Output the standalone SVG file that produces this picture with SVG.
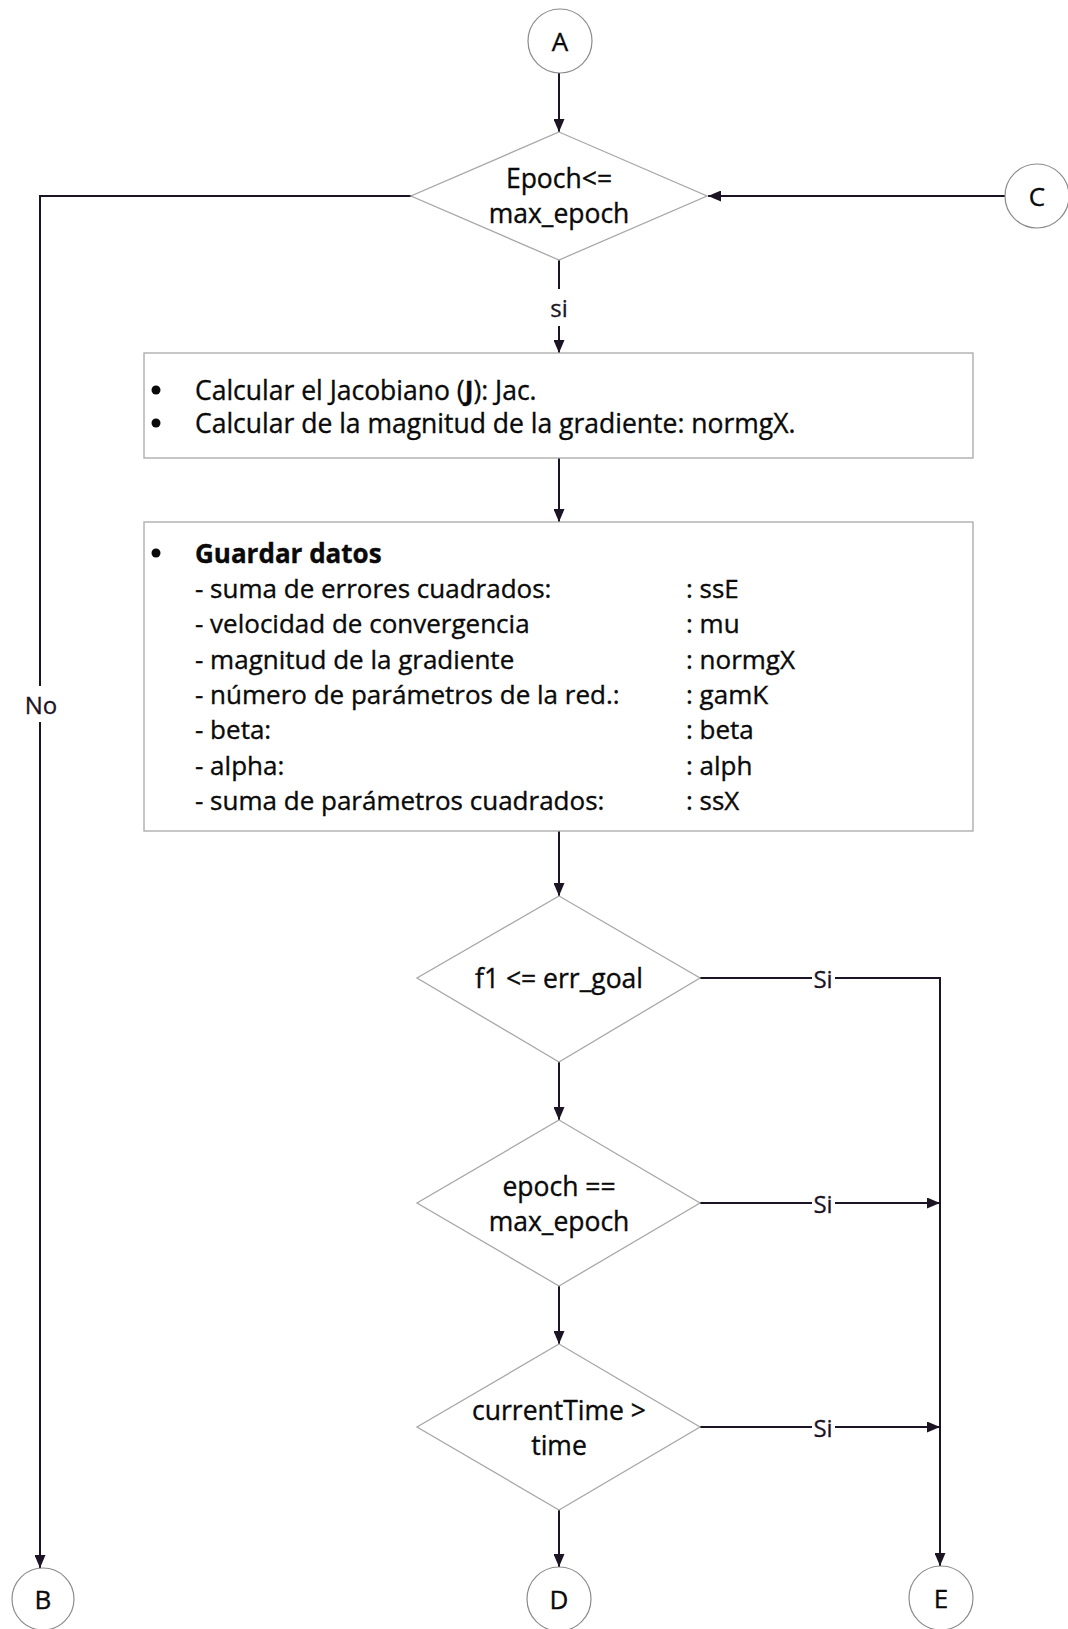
<svg xmlns="http://www.w3.org/2000/svg" width="1068" height="1629" viewBox="0 0 1068 1629">
  <defs>
    <marker id="arrow" viewBox="0 0 13 11" refX="13" refY="5.5" markerWidth="13" markerHeight="11" markerUnits="userSpaceOnUse" orient="auto">
      <path d="M0,0 L13,5.5 L0,11 Z" fill="#1c1424"/>
    </marker>
    <style>
      .shape { fill: #ffffff; stroke: #a8a8a8; stroke-width: 1.3; }
      .conn { fill: none; stroke: #1c1424; stroke-width: 2; }
      .circ { fill: #ffffff; stroke: #8c8c8c; stroke-width: 1.2; }
      .t { font-family: "Open Sans", "Liberation Sans", sans-serif; font-size: 26px; font-weight: 500; fill: #0a0a0a; stroke: #0a0a0a; stroke-width: 0.35; }
      .d { font-size: 26.5px; }
      .c { text-anchor: middle; dominant-baseline: central; }
      .lbl { font-family: "Open Sans", "Liberation Sans", sans-serif; font-size: 24px; font-weight: 500; fill: #1c1424; stroke: #1c1424; stroke-width: 0.3; text-anchor: middle; dominant-baseline: central; }
      .b { font-weight: bold; }
    </style>
  </defs>
  <rect width="1068" height="1629" fill="#ffffff"/>

  <!-- connectors -->
  <g id="connectors">
    <line class="conn" x1="559" y1="73" x2="559" y2="132" marker-end="url(#arrow)"/>
    <!-- back-edge from C -->
    <line class="conn" x1="1005" y1="196" x2="708" y2="196" marker-end="url(#arrow)"/>
    <!-- "No" branch to B -->
    <polyline class="conn" points="412,196 40,196 40,686"/>
    <line class="conn" x1="40" y1="722" x2="40" y2="1568" marker-end="url(#arrow)"/>
    <!-- "si" branch -->
    <line class="conn" x1="559" y1="260" x2="559" y2="289"/>
    <line class="conn" x1="559" y1="326" x2="559" y2="353" marker-end="url(#arrow)"/>
    <line class="conn" x1="559" y1="458" x2="559" y2="522" marker-end="url(#arrow)"/>
    <line class="conn" x1="559" y1="831" x2="559" y2="896" marker-end="url(#arrow)"/>
    <line class="conn" x1="559" y1="1062" x2="559" y2="1120" marker-end="url(#arrow)"/>
    <line class="conn" x1="559" y1="1286" x2="559" y2="1344" marker-end="url(#arrow)"/>
    <line class="conn" x1="559" y1="1510" x2="559" y2="1567" marker-end="url(#arrow)"/>
    <!-- "Si" exits to E -->
    <line class="conn" x1="700" y1="978" x2="812" y2="978"/>
    <polyline class="conn" points="835,978 940,978 940,1566" marker-end="url(#arrow)"/>
    <line class="conn" x1="700" y1="1203" x2="812" y2="1203"/>
    <line class="conn" x1="835" y1="1203" x2="940" y2="1203" marker-end="url(#arrow)"/>
    <line class="conn" x1="700" y1="1427" x2="812" y2="1427"/>
    <line class="conn" x1="835" y1="1427" x2="940" y2="1427" marker-end="url(#arrow)"/>
    <!-- connector labels -->
    <text class="lbl" x="559" y="307">si</text>
    <text class="lbl" x="41" y="704">No</text>
    <text class="lbl" x="823" y="978">Si</text>
    <text class="lbl" x="823" y="1203">Si</text>
    <text class="lbl" x="823" y="1427">Si</text>
  </g>

  <!-- connector A -->
  <g id="node-A">
    <circle class="circ" cx="560" cy="41" r="32"/>
    <text class="t c" x="560" y="41">A</text>
  </g>

  <!-- decision: epoch limit -->
  <g id="node-epoch">
    <polygon class="shape" points="559,132 707,196 559,260 411,196"/>
    <text class="t d c" x="559" y="178">Epoch&lt;=</text>
    <text class="t d c" x="559" y="213">max_epoch</text>
  </g>

  <!-- connector C -->
  <g id="node-C">
    <circle class="circ" cx="1037" cy="196" r="32"/>
    <text class="t c" x="1037" y="196">C</text>
  </g>

  <!-- Jacobian / gradient step -->
  <g id="node-jacobian">
    <rect class="shape" x="144" y="353" width="829" height="105"/>
    <circle cx="156" cy="390" r="4.5" fill="#0a0a0a"/>
    <circle cx="156" cy="423" r="4.5" fill="#0a0a0a"/>
    <text class="t d" x="195" y="390" dominant-baseline="central">Calcular el Jacobiano (<tspan class="b">J</tspan>): Jac.</text>
    <text class="t d" x="195" y="423" dominant-baseline="central">Calcular de la magnitud de la gradiente: normgX.</text>
  </g>

  <!-- data storage step -->
  <g id="node-guardar">
    <rect class="shape" x="144" y="522" width="829" height="309"/>
    <circle cx="156" cy="553" r="4.5" fill="#0a0a0a"/>
    <text class="t b" x="195" y="553" dominant-baseline="central">Guardar datos</text>
    <text class="t" x="195" y="588" dominant-baseline="central">- suma de errores cuadrados:</text>
    <text class="t" x="195" y="623" dominant-baseline="central">- velocidad de convergencia</text>
    <text class="t" x="195" y="659" dominant-baseline="central">- magnitud de la gradiente</text>
    <text class="t" x="195" y="694" dominant-baseline="central">- número de parámetros de la red.:</text>
    <text class="t" x="195" y="729" dominant-baseline="central">- beta:</text>
    <text class="t" x="195" y="765" dominant-baseline="central">- alpha:</text>
    <text class="t" x="195" y="800" dominant-baseline="central">- suma de parámetros cuadrados:</text>
    <text class="t" x="686" y="588" dominant-baseline="central">: ssE</text>
    <text class="t" x="686" y="623" dominant-baseline="central">: mu</text>
    <text class="t" x="686" y="659" dominant-baseline="central">: normgX</text>
    <text class="t" x="686" y="694" dominant-baseline="central">: gamK</text>
    <text class="t" x="686" y="729" dominant-baseline="central">: beta</text>
    <text class="t" x="686" y="765" dominant-baseline="central">: alph</text>
    <text class="t" x="686" y="800" dominant-baseline="central">: ssX</text>
  </g>

  <!-- decision: error goal -->
  <g id="node-errgoal">
    <polygon class="shape" points="559,896 700,978 559,1062 417,978"/>
    <text class="t d c" x="559" y="978">f1 &lt;= err_goal</text>
  </g>

  <!-- decision: epoch reached -->
  <g id="node-maxepoch">
    <polygon class="shape" points="559,1120 700,1203 559,1286 417,1203"/>
    <text class="t d c" x="559" y="1186">epoch ==</text>
    <text class="t d c" x="559" y="1221">max_epoch</text>
  </g>

  <!-- decision: time limit -->
  <g id="node-time">
    <polygon class="shape" points="559,1344 700,1427 559,1510 417,1427"/>
    <text class="t d c" x="559" y="1410">currentTime &gt;</text>
    <text class="t d c" x="559" y="1445">time</text>
  </g>

  <!-- terminal connectors -->
  <g id="node-B">
    <circle class="circ" cx="43" cy="1599" r="31"/>
    <text class="t c" x="43" y="1599">B</text>
  </g>
  <g id="node-D">
    <circle class="circ" cx="559" cy="1599" r="32"/>
    <text class="t c" x="559" y="1599">D</text>
  </g>
  <g id="node-E">
    <circle class="circ" cx="941" cy="1598" r="32"/>
    <text class="t c" x="941" y="1598">E</text>
  </g>
</svg>
